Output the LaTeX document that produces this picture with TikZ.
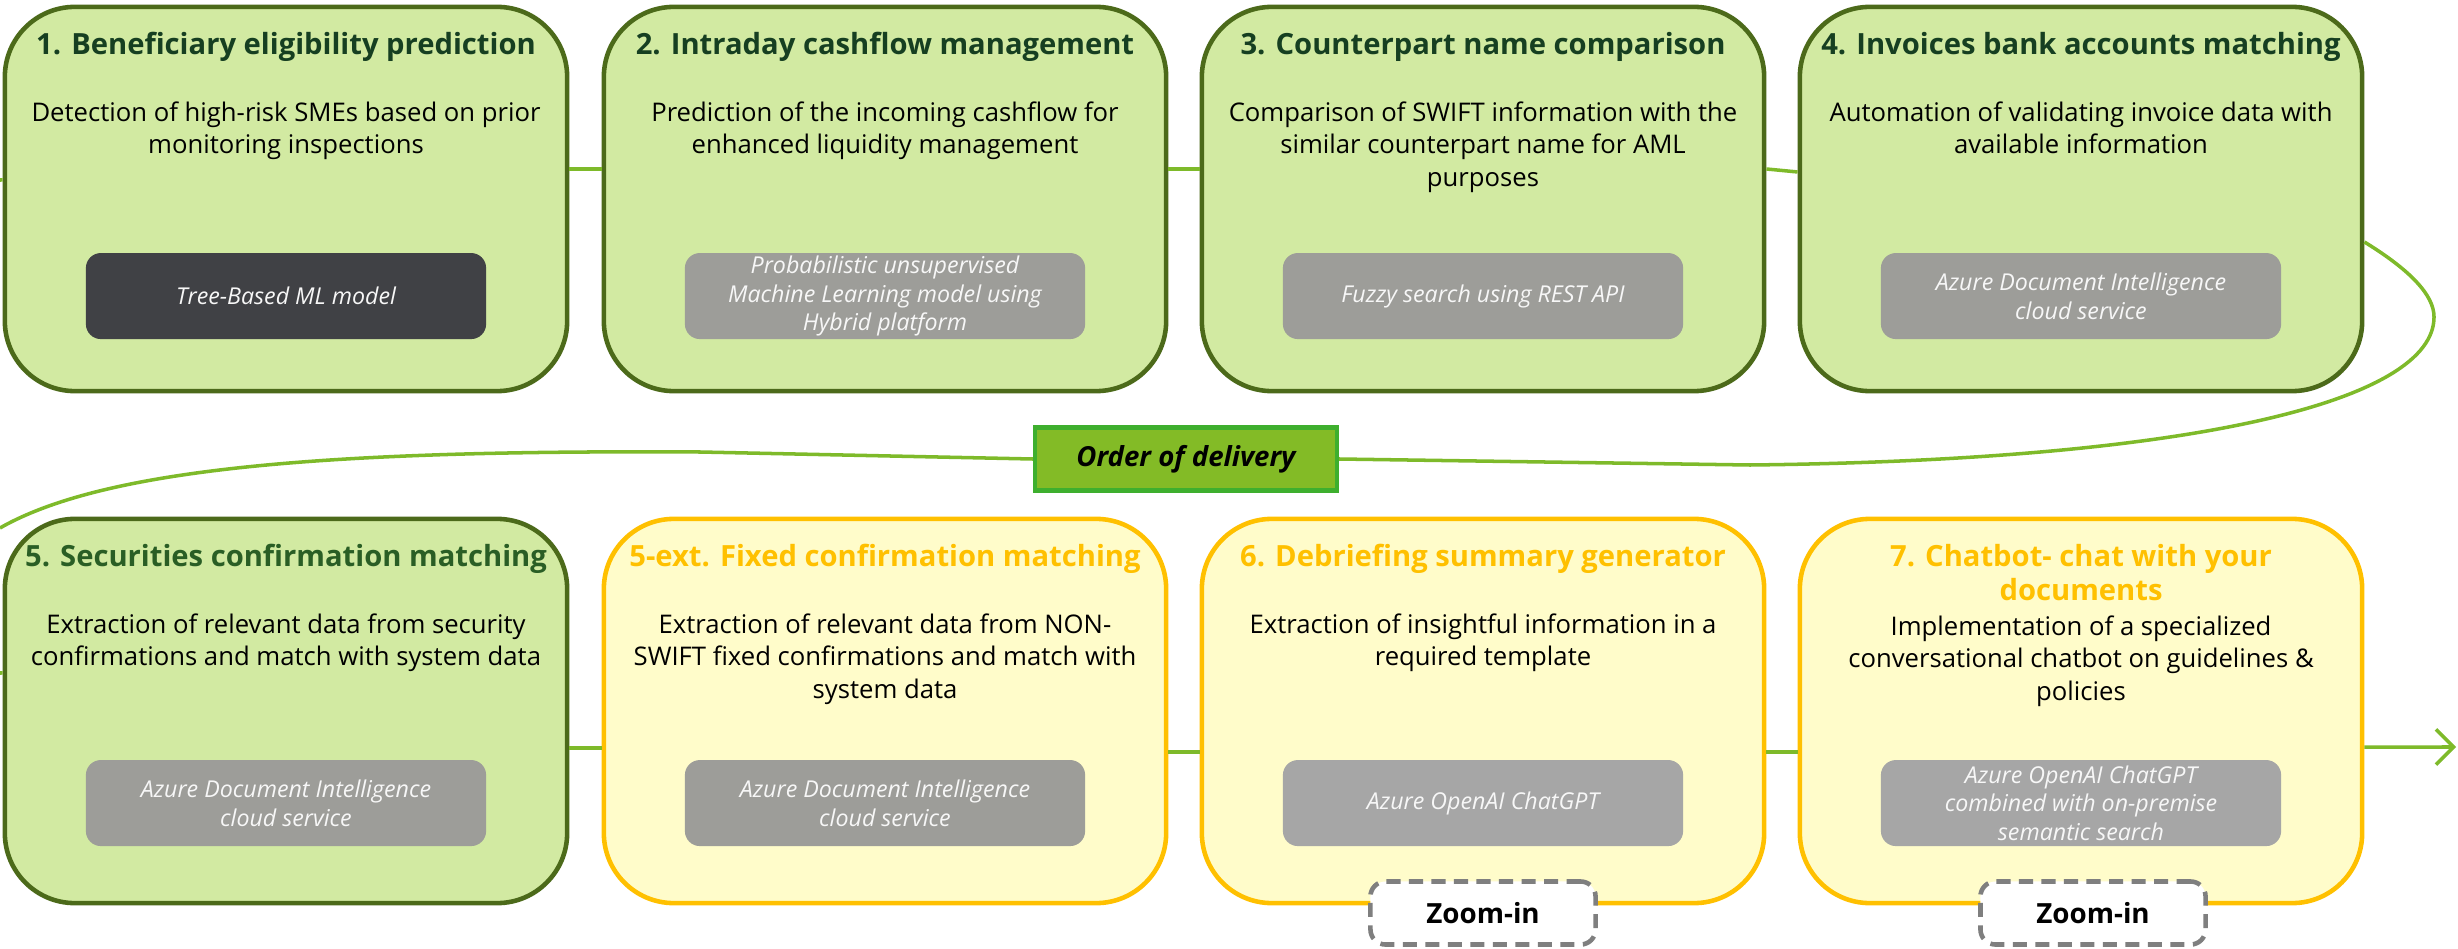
\documentclass[tikz,border=0pt]{standalone}
\usepackage{fontspec}
\setmainfont{Open Sans}
\usetikzlibrary{arrows.meta}

\definecolor{stageGreenFill}{HTML}{D2EAA2}
\definecolor{stageGreenLine}{HTML}{4C6A1A}
\definecolor{titleGreenDark}{HTML}{163F21}
\definecolor{titleGreen}{HTML}{2A5E25}
\definecolor{stageYellowFill}{HTML}{FFFCCA}
\definecolor{stageYellowLine}{HTML}{FFC000}
\definecolor{titleYellow}{HTML}{FFC000}
\definecolor{techGray}{HTML}{9D9D99}
\definecolor{techGrayLight}{HTML}{A6A6A6}
\definecolor{techDark}{HTML}{404145}
\definecolor{techText}{HTML}{F7F7F7}
\definecolor{flowGreen}{HTML}{7EBA2A}
\definecolor{orderFill}{HTML}{83BB26}
\definecolor{orderLine}{HTML}{3EAF2E}
\definecolor{zoomLine}{HTML}{7F7F7F}

\tikzset{
  stage/.style={rounded corners=0.7cm, line width=1.3pt,
    minimum width=5.62cm, minimum height=3.84cm, inner sep=0},
  greenstage/.style={stage, draw=stageGreenLine, fill=stageGreenFill},
  yellowstage/.style={stage, draw=stageYellowLine, fill=stageYellowFill},
  % text blocks hang from their top edge; a strut fixes the first baseline
  ttl/.style={anchor=north, align=center, inner sep=0,
    font=\fontsize{8.3}{9.7}\selectfont\bfseries},
  blurb/.style={anchor=north, align=center, inner sep=0, text=black,
    font=\fontsize{7.3}{9.3}\selectfont},
  tech/.style={rounded corners=0.15cm, minimum width=4cm, minimum height=0.86cm,
    align=center, inner sep=0, text=techText,
    font=\fontsize{6.6}{8.1}\selectfont\itshape},
  conn/.style={draw=flowGreen, line width=1pt},
  orderbox/.style={draw=orderLine, fill=orderFill, line width=1.2pt,
    minimum width=3.02cm, minimum height=0.63cm, inner sep=0,
    font=\fontsize{7.85}{9}\selectfont\bfseries\itshape},
  zoombox/.style={draw=zoomLine, fill=white, line width=1.3pt,
    dash pattern=on 4pt off 2.4pt, rounded corners=0.15cm,
    minimum width=2.25cm, minimum height=0.63cm, inner sep=0,
    font=\fontsize{7.9}{9}\selectfont\bfseries},
}

\begin{document}
\begin{tikzpicture}[x=0.01cm, y=-0.01cm]
\useasboundingbox (0,0) rectangle (2458,949);

% ---- stage boxes ----
\node[greenstage]  (b1) at (286,199) {};
\node[greenstage]  (b2) at (885,199) {};
\node[greenstage]  (b3) at (1483,199) {};
\node[greenstage]  (b4) at (2081,199) {};
\node[greenstage]  (b5) at (286,711) {};
\node[yellowstage] (b5x) at (885,711) {};
\node[yellowstage] (b6) at (1483,711) {};
\node[yellowstage] (b7) at (2081,711) {};

% ---- connectors between stages ----
\coordinate (inTop) at (0,180);
\coordinate (inBottom) at (0,673);
\coordinate (outLeft) at (0,528);
\coordinate (outRight) at (2456,747);

\draw[conn] (inTop) -- ([yshift=0.19cm]b1.west);
\draw[conn] ([yshift=0.3cm]b1.east) -- ([yshift=0.3cm]b2.west);
\draw[conn] ([yshift=0.3cm]b2.east) -- ([yshift=0.3cm]b3.west);
\draw[conn] ([yshift=0.3cm]b3.east) -- ([yshift=0.27cm]b4.west);

\draw[conn] (inBottom) -- ([yshift=0.38cm]b5.west);
\draw[conn] ([yshift=-0.37cm]b5.east) -- ([yshift=-0.37cm]b5x.west);
\draw[conn] ([yshift=-0.41cm]b5x.east) -- ([yshift=-0.41cm]b6.west);
\draw[conn] ([yshift=-0.41cm]b6.east) -- ([yshift=-0.41cm]b7.west);
\draw[conn, -{Straight Barb[length=5pt, width=10pt, line width=1pt]}]
  ([yshift=-0.36cm]b7.east) -- (outRight);

% ---- order of delivery ----
\node[orderbox] (order) at (1186,459) {Order of delivery};
\draw[conn] ([yshift=-0.43cm]b4.east)
  .. controls (2410,270) and (2434,295) .. (2434,317)
  .. controls (2434,400) and (2200,460) .. (1750,465)
  -- (order.east);
\draw[conn] (order.west) -- (700,452)
  .. controls (350,450) and (110,465) .. (outLeft);

% ---- titles ----
\node[ttl, text=titleGreenDark] at ([yshift=-0.25cm]b1.north) {\strut 1. Beneficiary eligibility prediction};
\node[ttl, text=titleGreenDark] at ([yshift=-0.25cm]b2.north) {\strut 2. Intraday cashflow management};
\node[ttl, text=titleGreenDark] at ([yshift=-0.25cm]b3.north) {\strut 3. Counterpart name comparison};
\node[ttl, text=titleGreenDark] at ([yshift=-0.25cm]b4.north) {\strut 4. Invoices bank accounts matching};
\node[ttl, text=titleGreen] at ([yshift=-0.25cm]b5.north) {\strut 5. Securities confirmation matching};
\node[ttl, text=titleYellow] at ([yshift=-0.25cm]b5x.north) {\strut 5-ext. Fixed confirmation matching};
\node[ttl, text=titleYellow] at ([yshift=-0.25cm]b6.north) {\strut 6. Debriefing summary generator};
\node[ttl, text=titleYellow] at ([yshift=-0.25cm]b7.north) {\strut 7. Chatbot- chat with your\\documents};

% ---- descriptions ----
\node[blurb] at ([yshift=-0.93cm]b1.north) {\strut Detection of high-risk SMEs based on prior\\monitoring inspections};
\node[blurb] at ([yshift=-0.93cm]b2.north) {\strut Prediction of the incoming cashflow for\\enhanced liquidity management};
\node[blurb] at ([yshift=-0.93cm]b3.north) {\strut Comparison of SWIFT information with the\\similar counterpart name for AML\\purposes};
\node[blurb] at ([yshift=-0.93cm]b4.north) {\strut Automation of validating invoice data with\\available information};
\node[blurb] at ([yshift=-0.93cm]b5.north) {\strut Extraction of relevant data from security\\confirmations and match with system data};
\node[blurb] at ([yshift=-0.93cm]b5x.north) {\strut Extraction of relevant data from NON-\\SWIFT fixed confirmations and match with\\system data};
\node[blurb] at ([yshift=-0.93cm]b6.north) {\strut Extraction of insightful information in a\\required template};
\node[blurb] at ([yshift=-0.95cm]b7.north) {\strut Implementation of a specialized\\conversational chatbot on guidelines \&\\policies};

% ---- technology tags ----
\node[tech, fill=techDark] (t1) at ([yshift=-0.97cm]b1.center) {Tree-Based ML model};
\node[tech, fill=techGray] (t2) at ([yshift=-0.97cm]b2.center) {Probabilistic unsupervised\\Machine Learning model using\\Hybrid platform};
\node[tech, fill=techGray] (t3) at ([yshift=-0.97cm]b3.center) {Fuzzy search using REST API};
\node[tech, fill=techGray] (t4) at ([yshift=-0.97cm]b4.center) {Azure Document Intelligence\\cloud service};
\node[tech, fill=techGray] (t5) at ([yshift=-0.92cm]b5.center) {Azure Document Intelligence\\cloud service};
\node[tech, fill=techGray] (t5x) at ([yshift=-0.92cm]b5x.center) {Azure Document Intelligence\\cloud service};
\node[tech, fill=techGrayLight] (t6) at ([yshift=-0.92cm]b6.center) {Azure OpenAI ChatGPT};
\node[tech, fill=techGrayLight] (t7) at ([yshift=-0.92cm]b7.center) {Azure OpenAI ChatGPT\\combined with on-premise\\semantic search};

% ---- zoom-in tags ----
\node[zoombox] (z6) at (1483,913) {Zoom-in};
\node[zoombox] (z7) at (2093,913) {Zoom-in};
\end{tikzpicture}
\end{document}
